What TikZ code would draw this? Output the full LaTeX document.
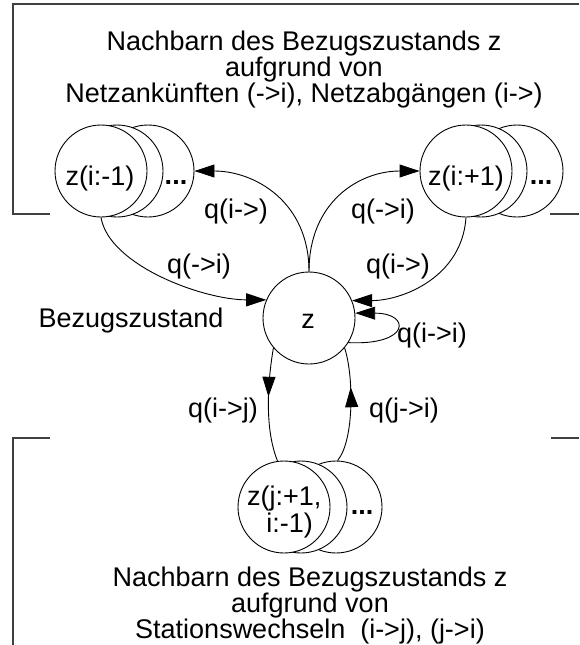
\documentclass[tikz,border=0pt]{standalone}
\usepackage{fontspec}
\setmainfont{Liberation Sans}
\usetikzlibrary{arrows.meta,decorations.markings}
\begin{document}
\begin{tikzpicture}[x=1pt,y=-1pt,
  state/.style={circle,draw,fill=white,minimum size=92pt,inner sep=0pt,line width=0.9pt},
  lbl/.style={font=\fontsize{27}{23}\selectfont,inner sep=0pt,anchor=base},
  block/.style={font=\fontsize{27}{23.3}\selectfont,inner sep=0pt,align=center,anchor=north},
  dots/.style={font=\fontsize{27}{23}\selectfont\bfseries,inner sep=0pt,anchor=base},
  tip/.style={-{Triangle[length=20pt,width=13pt]}},
  edge/.style={line width=0.9pt},
  midtip/.style={decoration={markings,mark=at position #1 with {\arrow{Triangle[length=20pt,width=13pt]}}},postaction=decorate},
  frame/.style={line width=1.2pt,draw=black!75}]
\useasboundingbox (0,0) rectangle (579,645);

% frames
\draw[frame] (50,214) -- (13,214) -- (13,4) -- (579,4);
\draw[frame] (550,214) -- (579,214);
\draw[frame] (50,438) -- (13,438) -- (13,645);
\draw[frame] (551,438) -- (579,438);

% top text
\node[block] (top) at (304,30.5) {Nachbarn des Bezugszustands z\\aufgrund von\\Netzankünften (->i), Netzabgängen (i->)};

% left group
\node[state] (a3) at (148,171) {};
\node[state] (a2) at (117,171) {};
\node[state] (a1) at (101,171) {};
\node[lbl] (a1t) at (100,185) {z(i:-1)};
\node[dots] (adots) at (176,184) {...};

% right group
\node[state] (b3) at (517,171) {};
\node[state] (b2) at (481,171) {};
\node[state] (b1) at (466,171) {};
\node[lbl] (b1t) at (466,185) {z(i:+1)};
\node[dots] (bdots) at (541,184) {...};

% center
\node[state] (zc) at (309,318) {};
\node[lbl] (zt) at (308,328) {z};
\node[lbl] (bez) at (131,327) {Bezugszustand};

% bottom group
\node[state] (c3) at (336,507) {};
\node[state] (c2) at (301,507) {};
\node[state] (c1) at (284,507) {};
\node[lbl,anchor=base west] (c1ta) at (247,505) {z(j:+1,};
\node[lbl,anchor=base east] (c1tb) at (313,532) {i:-1)};
\node[dots] (cdots) at (362,514) {...};

% bottom text
\node[block] (bottom) at (310,566.5) {Nachbarn des Bezugszustands z\\aufgrund von\\Stationswechseln\ \ (i->j), (j->i)};

% connectors
\draw[edge,tip] (zc.north) .. controls +(0,-70) and +(60,0) .. (a3.east);
\draw[edge,tip] (zc.north) .. controls +(0,-70) and +(-60,0) .. (b1.west);
\draw[edge,tip] (a1.south) .. controls +(8,48) and +(-63,0) .. (zc.157);
\draw[edge,tip] (b1.south) .. controls +(-4,60) and +(50,0) .. (zc.22);
\draw[edge,tip] (zc.-32) .. controls +(62,3) and +(56,0) .. (zc.6);
\draw[edge,midtip=0.43] (zc.220) .. controls +(-6,35) and +(-13,-32) .. (c1.98);
\draw[edge,midtip=0.655] (c3.88) .. controls +(17,-21) and +(9,27) .. (zc.-40);

% edge labels
\node[lbl] (l1) at (236,218) {q(i->)};
\node[lbl] (l2) at (199,273) {q(->i)};
\node[lbl] (l3) at (383,218) {q(->i)};
\node[lbl] (l4) at (398,273) {q(i->)};
\node[lbl] (l5) at (432,342) {q(i->i)};
\node[lbl] (l6) at (223,417) {q(i->j)};
\node[lbl] (l7) at (404,417) {q(j->i)};
\end{tikzpicture}
\end{document}
